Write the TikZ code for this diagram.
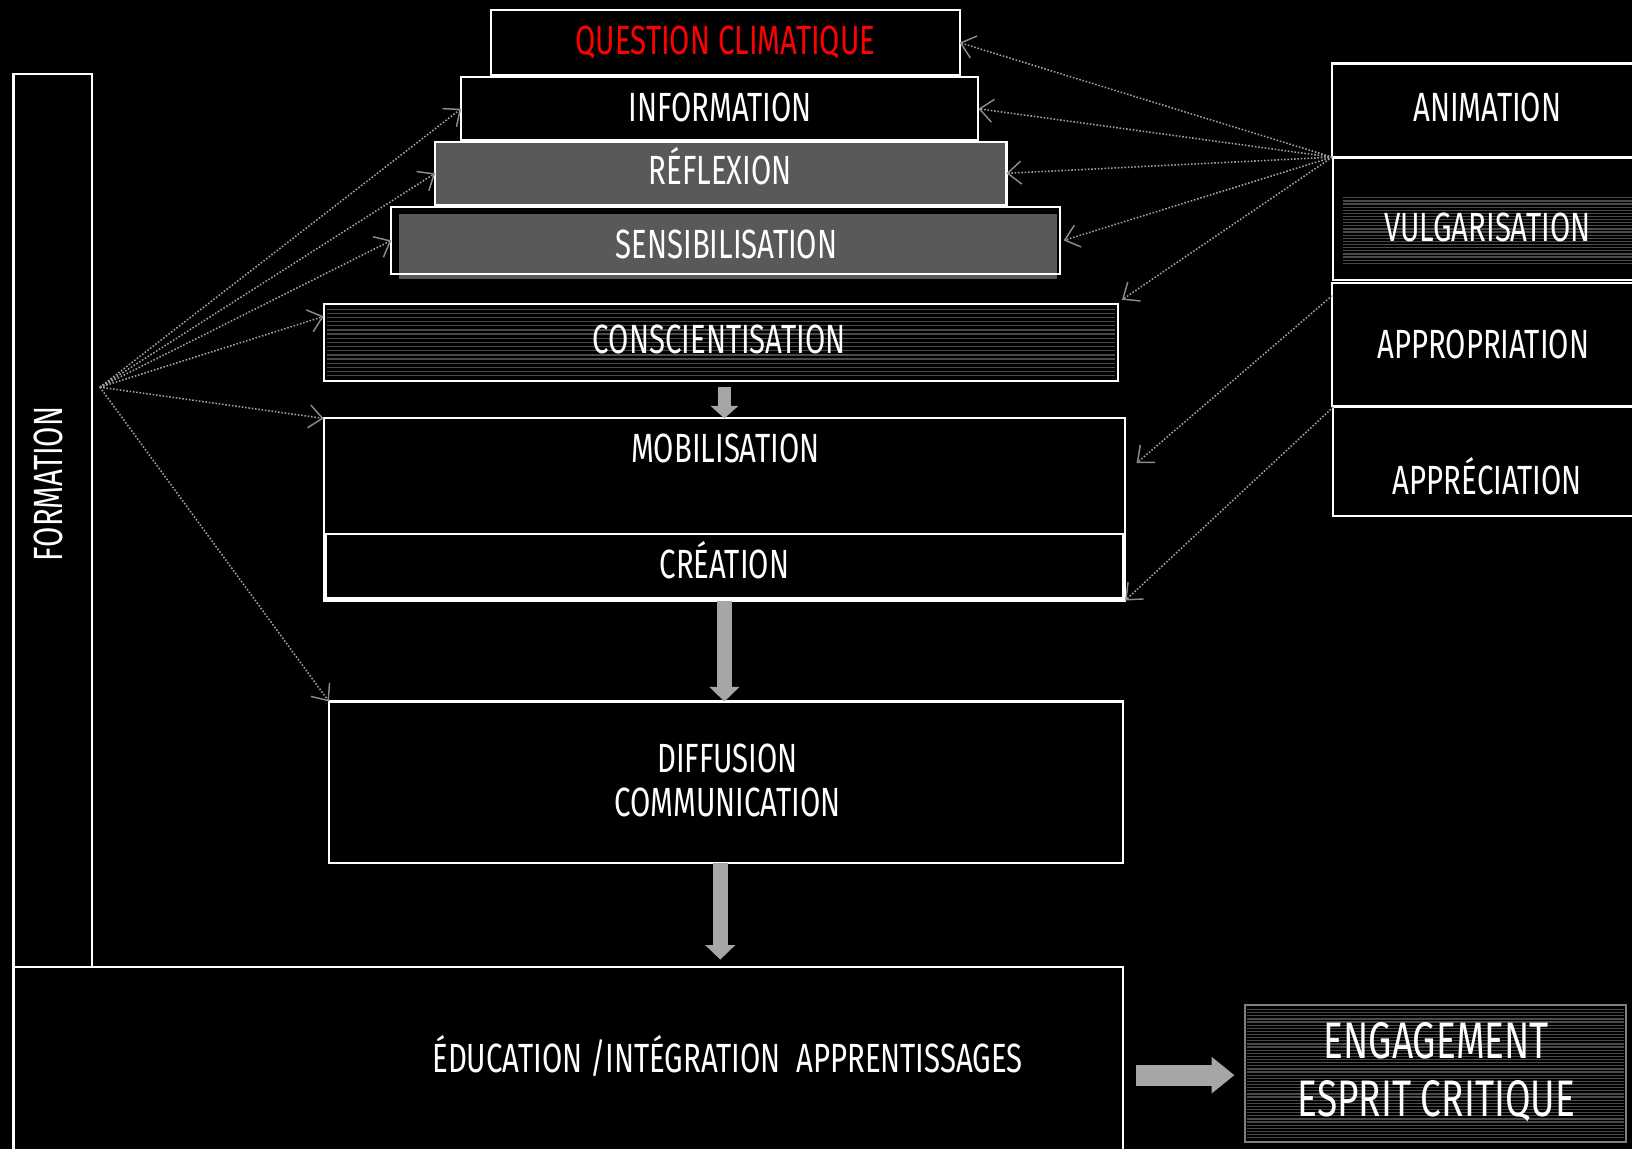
\documentclass[tikz,border=0pt]{standalone}
\usepackage{fontspec}
\setmainfont[FakeStretch=0.72]{Fira Sans}
\usetikzlibrary{fit,arrows.meta,calc}
\definecolor{boxgray}{HTML}{595959}
\definecolor{arrowgray}{HTML}{A6A6A6}
\definecolor{dotgray}{HTML}{A0A0A0}
\definecolor{tipgray}{HTML}{8C8C8C}
\definecolor{stripegray}{HTML}{4A4A4A}
\definecolor{qred}{HTML}{FF0000}
\definecolor{enggray}{HTML}{7F7F7F}
\begin{document}
\begin{tikzpicture}[x=0.5pt,y=-0.5pt,
  box/.style={draw=white, line width=1pt, fill=none, inner sep=0pt, outer sep=0pt},
  lbl/.style={text=white, inner sep=0pt, anchor=base, font=\fontsize{19.6}{21}\selectfont, align=center},
  biglbl/.style={text=white, inner sep=0pt, anchor=base, font=\fontsize{24.7}{28}\selectfont, align=center},
  flow/.style={draw=arrowgray, line width=7pt, -{Triangle[length=7pt,width=14pt]}},
  link/.style={draw=dotgray, line width=0.75pt, dash pattern=on 0.75pt off 0.85pt, -{Straight Barb[length=6.5pt,width=11pt,line width=0.7pt,color=tipgray]}},
  stripe/.style={draw=stripegray, line width=0.6pt},
]
\fill[black] (0,0) rectangle (1568,1104);
\useasboundingbox (0,0) rectangle (1568,1104);
\clip (0,0) rectangle (1568,1104);

% pyramid
\node[box, fit={(472,10)(922,72)}] (question) {};
\node[lbl, text=qred] (questiontext) at (697,52.5) {QUESTION CLIMATIQUE};
\node[box, fit={(443,74)(940,135)}] (info) {};
\node[lbl] (infotext) at (692,116.5) {INFORMATION};
\node[box, fill=boxgray, fit={(418,136)(967,197)}] (refl) {};
\node[lbl] (refltext) at (692,177.5) {RÉFLEXION};
\node[inner sep=0pt, outer sep=0pt, fill=boxgray, fit={(383,206)(1016,268)}] (sensfill) {};
\node[box, fit={(376,199)(1018,263)}] (sens) {};
\node[lbl] (senstext) at (698,248.5) {SENSIBILISATION};

% conscientisation
\foreach \yy in {297,301,...,361} \draw[stripe] (314,\yy) -- (1071,\yy);
\node[box, fit={(311,292)(1074,366)}] (consc) {};
\node[lbl] (consctext) at (691,339.5) {CONSCIENTISATION};

% mobilisation / creation
\node[box, fit={(311,402)(1081,577)}] (mob) {};
\node[lbl] (mobtext) at (697,444.5) {MOBILISATION};
\node[box, fit={(313,513)(1079,575)}] (creation) {};
\node[lbl] (creationtext) at (696,555.5) {CRÉATION};

% diffusion
\node[box, fit={(316,674)(1079,829)}] (diff) {};
\node[lbl] (difftext) at (699,784.5) {DIFFUSION\\COMMUNICATION};

% education
\node[box, fit={(13,929)(1079,1130)}] (edu) {};
\node[lbl] (edutext) at (699,1030.5) {ÉDUCATION /INTÉGRATION\ \ APPRENTISSAGES};

% formation
\node[box, fit={(13,71)(88,929)}] (formation) {};
\node[lbl, anchor=center, rotate=90] (formtext) at (47,465) {FORMATION};

% right column
\node[box, fit={(1280,61)(1600,151)}] (anim) {};
\node[lbl] (animtext) at (1429,116.5) {ANIMATION};
\foreach \yy in {190,193,...,253} \draw[stripe] (1290,\yy) -- (1570,\yy);
\node[box, fit={(1281,152)(1600,269)}] (vulg) {};
\node[lbl] (vulgtext) at (1429,232.5) {VULGARISATION};
\node[box, fit={(1280,272)(1600,390)}] (approp) {};
\node[lbl] (approptext) at (1425,344.5) {APPROPRIATION};
\node[box, fit={(1281,391)(1600,496)}] (apprec) {};
\node[lbl] (apprectext) at (1429,475.5) {APPRÉCIATION};

% engagement
\foreach \yy in {970,973,...,1094} \draw[stripe] (1198,\yy) -- (1560,\yy);
\node[box, draw=enggray, fit={(1196,966)(1562,1097)}] (eng) {};
\node[biglbl] (engtext) at (1380,1073) {ENGAGEMENT\\ESPRIT CRITIQUE};

% block arrows
\draw[flow, line width=6pt, -{Triangle[length=6pt,width=13pt]}] ([yshift=-3pt]consc.south -| mob.north) -- (mob.north);
\draw[flow] (mob.south) -- (diff.north -| mob.south);
\draw[flow] (diff.south -| 692,0) -- ([yshift=3.5pt]edu.north -| 692,0);
\draw[flow, line width=10pt, -{Triangle[length=11pt,width=17pt]}, shorten >=5pt] (1091,1033) -- (eng.west |- 1091,1033);

% dotted links from formation
\coordinate (fsrc) at (96,372);
\draw[link] (fsrc) -- (info.west);
\draw[link] (fsrc) -- (refl.west);
\draw[link] (fsrc) -- (sens.west);
\draw[link] (fsrc) -- ([yshift=-6pt]consc.north west);
\draw[link] (fsrc) -- (mob.north west);
\draw[link] (fsrc) -- (diff.north west);

% dotted links from right column
\draw[link] (anim.south west) -- (question.east);
\draw[link] (anim.south west) -- (info.east);
\draw[link] (anim.south west) -- (refl.east);
\draw[link] (anim.south west) -- ([xshift=2pt]sens.east);
\draw[link] (anim.south west) -- ([xshift=2pt,yshift=2pt]consc.north east);
\draw[link] ([yshift=-6pt]approp.north west) -- ([xshift=5.5pt,yshift=-21.5pt]mob.north east);
\draw[link] (apprec.north west) -- (mob.south east);
\end{tikzpicture}
\end{document}
